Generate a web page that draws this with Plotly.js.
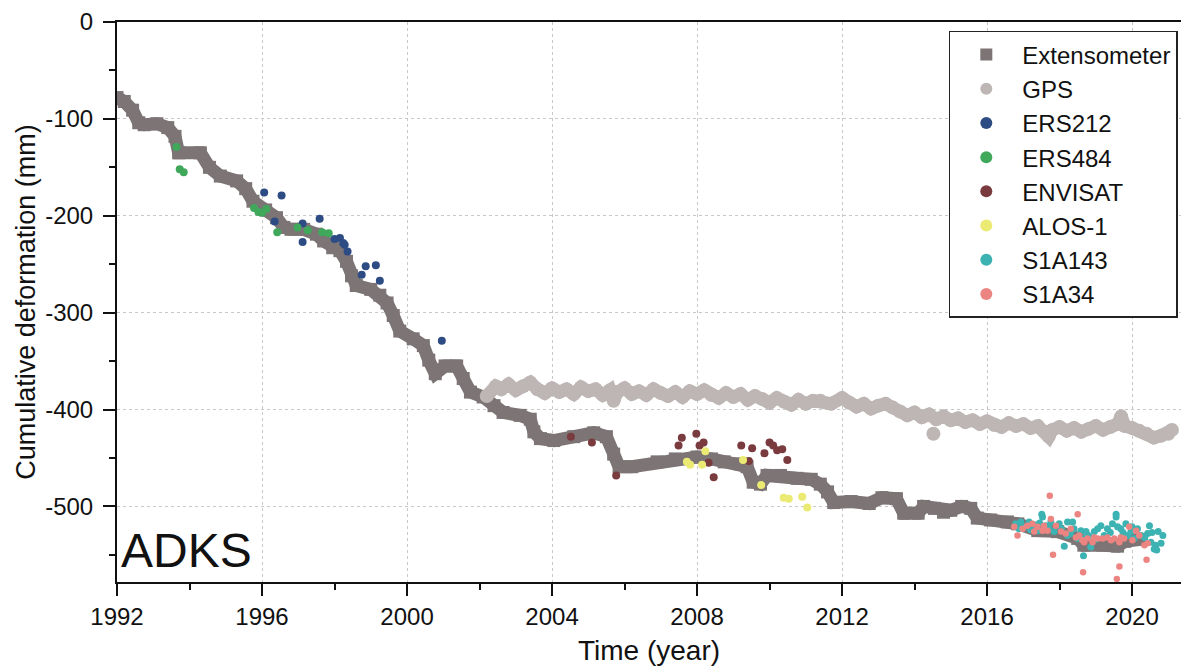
<!DOCTYPE html>
<html>
<head>
<meta charset="utf-8">
<script src="https://cdn.plot.ly/plotly-3.0.1.min.js"></script>
<style>
  html, body { margin: 0; padding: 0; background: #ffffff; }
  #chart { width: 1182px; height: 671px; }
</style>
</head>
<body>
<div id="chart"></div>
<script>
// ---- Extensometer (breakpoints of the cumulative series) ----
const extYear = [1992.0,1992.2,1992.43,1992.6,1992.75,1993.1,1993.4,1993.6,1993.7,1994.3,1994.55,1994.85,1995.3,1995.55,1995.75,1996.1,1996.4,1996.6,1996.8,1997.15,1997.5,1997.7,1997.95,1998.15,1998.33,1998.47,1998.6,1999.0,1999.25,1999.45,1999.62,1999.8,2000.17,2000.45,2000.6,2000.78,2001.05,2001.37,2001.55,2001.75,2002.1,2002.4,2002.65,2003.12,2003.4,2003.5,2003.68,2004.05,2004.6,2005.15,2005.5,2005.7,2005.85,2006.2,2006.9,2007.4,2008.0,2008.4,2008.75,2009.2,2009.38,2009.55,2009.75,2009.93,2010.3,2010.76,2011.15,2011.4,2011.6,2011.77,2012.25,2012.75,2013.1,2013.5,2013.7,2014.1,2014.25,2014.55,2014.8,2015.0,2015.3,2015.55,2015.73,2016.1,2016.56,2016.85,2017.4,2017.95,2018.5,2018.67,2019.2,2019.6,2019.8,2020.25];
const extVal  = [-78,-82,-91,-104,-106,-105,-109,-118,-135,-135,-150,-159,-164,-172,-185,-194,-202,-212,-214,-214,-219,-226,-233,-236,-247,-262,-272,-276,-282,-290,-303,-319,-327,-334,-349,-363,-355,-355,-368,-382,-387,-396,-403,-406,-410,-423,-430,-432,-428,-424,-428,-446,-459,-459,-454,-451,-449,-451,-454,-456,-459,-475,-477,-468,-468,-471,-472,-477,-485,-496,-495,-497,-491,-492,-507,-507,-500,-502,-506,-504,-500,-502,-512,-514,-516,-518,-525,-526,-533,-540,-540,-541,-536,-534];

// ---- GPS (continuous band) ----
const gpsYear = [2002.2,2002.45,2002.6,2002.8,2003.0,2003.2,2003.4,2003.6,2003.8,2004.0,2004.2,2004.4,2004.6,2004.8,2005.0,2005.2,2005.4,2005.6,2005.7,2005.8,2006.0,2006.2,2006.4,2006.6,2006.8,2007.0,2007.2,2007.4,2007.6,2007.8,2008.0,2008.2,2008.4,2008.6,2008.8,2009.0,2009.2,2009.4,2009.6,2009.8,2010.0,2010.2,2010.4,2010.6,2010.8,2011.0,2011.2,2011.4,2011.7,2012.0,2012.2,2012.4,2012.6,2012.8,2013.0,2013.2,2013.4,2013.6,2013.8,2014.0,2014.2,2014.4,2014.6,2014.8,2015.0,2015.2,2015.4,2015.6,2015.8,2016.0,2016.2,2016.4,2016.6,2016.8,2017.0,2017.2,2017.4,2017.6,2017.7,2017.8,2018.0,2018.2,2018.4,2018.6,2018.8,2019.0,2019.2,2019.4,2019.6,2019.7,2019.8,2020.0,2020.2,2020.4,2020.6,2020.8,2021.0,2021.1];
const gpsVal  = [-386,-376,-379,-374,-380,-376,-372,-379,-383,-378,-382,-379,-384,-377,-381,-379,-385,-380,-391,-382,-378,-384,-381,-385,-379,-383,-386,-382,-387,-381,-384,-380,-385,-388,-383,-387,-384,-390,-386,-389,-393,-388,-392,-395,-390,-394,-391,-391,-394,-388,-393,-397,-394,-399,-396,-394,-398,-402,-406,-403,-408,-405,-410,-407,-411,-409,-413,-411,-415,-412,-416,-418,-414,-417,-415,-419,-417,-423,-428,-421,-418,-422,-419,-423,-420,-417,-421,-418,-415,-407,-417,-419,-422,-425,-429,-427,-425,-421];
// isolated GPS outliers
const gpsOutYear = [2014.52];
const gpsOutVal  = [-425];

// ---- InSAR ----
const ers212Year = [1996.06,1996.54,1996.35,1997.12,1997.59,1997.12,1998.0,1998.15,1998.24,1998.28,1998.36,1998.75,1998.86,1999.14,1999.25,2000.96];
const ers212Val  = [-176,-179,-206,-208,-203,-227,-224,-223,-228,-230,-237,-261,-252,-251,-267,-329];

const ers484Year = [1993.64,1993.73,1993.84,1995.78,1995.9,1996.0,1996.12,1996.42,1996.98,1997.26,1997.66,1997.84];
const ers484Val  = [-129,-152,-155,-192,-196,-197,-193,-217,-212,-215,-217,-218];

const envYear = [2004.52,2005.1,2005.77,2007.49,2007.58,2007.98,2008.07,2008.18,2008.32,2008.46,2009.22,2009.43,2009.52,2009.86,2010.0,2010.1,2010.21,2010.35,2010.49];
const envVal  = [-428,-434,-468,-437,-429,-425,-437,-434,-455,-470,-437,-453,-440,-445,-434,-437,-442,-441,-452];

const alosYear = [2007.72,2007.81,2008.14,2008.23,2009.27,2009.77,2010.39,2010.53,2010.9,2011.04];
const alosVal  = [-454,-457,-457,-443,-452,-478,-491,-492,-490,-501];

const s143Year = [2016.79,2016.88,2016.93,2017.02,2017.16,2017.2,2017.3,2017.39,2017.45,2017.51,2017.53,2017.62,2017.7,2017.76,2017.85,2017.99,2018.05,2018.13,2018.22,2018.22,2018.3,2018.36,2018.4,2018.5,2018.59,2018.66,2018.68,2018.73,2018.8,2018.86,2018.96,2019.0,2019.05,2019.14,2019.23,2019.32,2019.4,2019.46,2019.56,2019.56,2019.6,2019.69,2019.75,2019.83,2019.88,2019.97,2020.0,2020.06,2020.15,2020.25,2020.35,2020.43,2020.48,2020.52,2020.55,2020.61,2020.65,2020.68,2020.72,2020.8,2020.85];
const s143Val  = [-518,-523,-516,-521,-516,-524,-519,-525,-517,-508,-511,-520,-522,-516,-526,-518,-523,-541,-516,-530,-528,-516,-523,-533,-525,-551,-533,-526,-530,-542,-526,-534,-523,-520,-530,-523,-527,-518,-511,-508,-521,-523,-527,-518,-530,-526,-521,-533,-523,-530,-532,-528,-520,-537,-527,-544,-540,-545,-526,-538,-530];

const s134Year = [2016.75,2016.84,2016.98,2017.11,2017.25,2017.3,2017.39,2017.53,2017.57,2017.67,2017.73,2017.76,2017.82,2017.9,2018.04,2018.17,2018.31,2018.45,2018.5,2018.54,2018.63,2018.65,2018.68,2018.77,2018.91,2018.96,2019.05,2019.19,2019.32,2019.42,2019.51,2019.58,2019.65,2019.65,2019.69,2019.78,2019.92,2020.01,2020.11,2020.2,2020.34,2020.4,2020.43];
const s134Val  = [-521,-530,-523,-520,-518,-526,-521,-525,-520,-525,-489,-513,-550,-520,-526,-528,-523,-532,-508,-530,-535,-568,-537,-533,-537,-532,-533,-533,-532,-535,-533,-575,-537,-562,-532,-533,-521,-535,-525,-530,-540,-555,-538];

// ---- axis tick labels ----
const xTickVals = [1992, 1996, 2000, 2004, 2008, 2012, 2016, 2020];
const xTickText = ['1992', '1996', '2000', '2004', '2008', '2012', '2016', '2020'];
const yTickVals = [0, -100, -200, -300, -400, -500];
const yTickText = ['0', '-100', '-200', '-300', '-400', '-500'];

const names = ['Extensometer','GPS','ERS212','ERS484','ENVISAT','ALOS-1','S1A143','S1A34'];
const colors = ['#7c7475','#bdb6b5','#2e4c84','#3fa85a','#7a3b3f','#ebeb74','#3cb3b2','#ec8582'];

const FONT = 'Liberation Sans, Arial, Helvetica, sans-serif';

const traces = [
  {x: extYear, y: extVal, mode: 'lines', line: {color: colors[0], width: 13},
   showlegend: false, legendgroup: 'ext', hoverinfo: 'skip'},
  {x: extYear, y: extVal, mode: 'markers', name: names[0], legendgroup: 'ext',
   marker: {symbol: 'square', size: 13, color: colors[0]}},
  {x: gpsYear, y: gpsVal, mode: 'lines', line: {color: colors[1], width: 13},
   showlegend: false, legendgroup: 'gps', hoverinfo: 'skip'},
  {x: gpsYear.concat(gpsOutYear), y: gpsVal.concat(gpsOutVal), mode: 'markers', name: names[1], legendgroup: 'gps',
   marker: {symbol: 'circle', size: 14, color: colors[1]}},
  {x: ers212Year, y: ers212Val, mode: 'markers', name: names[2],
   marker: {size: 8, color: colors[2]}},
  {x: ers484Year, y: ers484Val, mode: 'markers', name: names[3],
   marker: {size: 8, color: colors[3]}},
  {x: envYear, y: envVal, mode: 'markers', name: names[4],
   marker: {size: 8, color: colors[4]}},
  {x: alosYear, y: alosVal, mode: 'markers', name: names[5],
   marker: {size: 8, color: colors[5]}},
  {x: s143Year, y: s143Val, mode: 'markers', name: names[6],
   marker: {size: 7, color: colors[6]}},
  {x: s134Year, y: s134Val, mode: 'markers', name: names[7],
   marker: {size: 6.5, color: colors[7]}}
];

const layout = {
  width: 1182, height: 671,
  margin: {l: 117, r: 1, t: 22, b: 89},
  paper_bgcolor: '#ffffff', plot_bgcolor: '#ffffff',
  font: {family: FONT, color: '#111111'},
  showlegend: true,
  xaxis: {
    range: [1992, 2021.35], tickmode: 'array', tickvals: xTickVals, ticktext: xTickText,
    showline: true, linecolor: '#111111', linewidth: 2, mirror: true,
    ticks: 'outside', ticklen: 12, tickwidth: 2, tickcolor: '#111111',
    tickfont: {size: 24, family: FONT},
    showgrid: true, gridcolor: '#c8c8c8', griddash: 'dot', gridwidth: 1,
    zeroline: false,
    minor: {dtick: 2, tick0: 1992, ticks: 'outside', ticklen: 6, tickwidth: 2, tickcolor: '#111111', showgrid: false},
    title: {text: 'Time (year)', font: {size: 28, family: FONT}, standoff: 12}
  },
  yaxis: {
    range: [-578, 0], tickmode: 'array', tickvals: yTickVals, ticktext: yTickText,
    showline: true, linecolor: '#111111', linewidth: 2, mirror: false,
    ticks: 'outside', ticklen: 12, tickwidth: 2, tickcolor: '#111111',
    tickfont: {size: 24, family: FONT}, ticklabelstandoff: 5,
    showgrid: true, gridcolor: '#c8c8c8', griddash: 'dot', gridwidth: 1,
    zeroline: false,
    minor: {dtick: 50, tick0: 0, ticks: 'outside', ticklen: 6, tickwidth: 2, tickcolor: '#111111', showgrid: false},
    title: {text: 'Cumulative deformation (mm)', font: {size: 27, family: FONT}, standoff: 2}
  },
  legend: {
    x: 0.997, xanchor: 'right', y: 0.984, yanchor: 'top',
    bgcolor: '#ffffff', bordercolor: '#222222', borderwidth: 1.5,
    font: {size: 24, family: FONT, color: '#111111'},
    itemwidth: 62, itemsizing: 'constant', tracegroupgap: 0
  },
  annotations: [{
    text: 'ADKS', xref: 'paper', yref: 'paper', x: 0.002, y: 0.005,
    xanchor: 'left', yanchor: 'bottom', showarrow: false,
    font: {size: 48, family: FONT, color: '#111111'}
  }]
};

Plotly.newPlot('chart', traces, layout, {displayModeBar: false, staticPlot: true});
</script>
</body>
</html>
